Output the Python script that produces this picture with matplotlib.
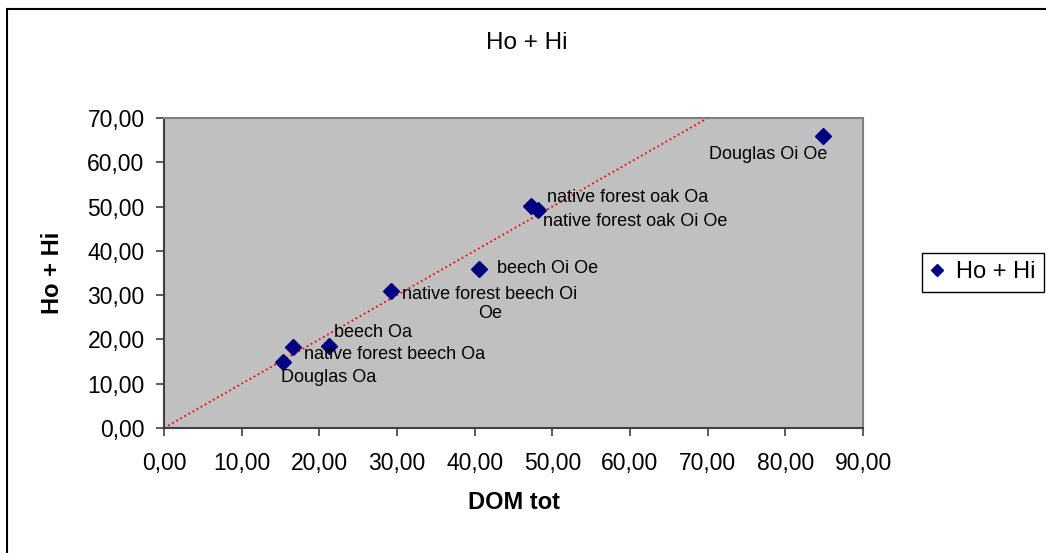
import matplotlib
matplotlib.use('Agg')
import matplotlib.pyplot as plt
from matplotlib.patches import Rectangle
from matplotlib.lines import Line2D

plt.rcParams['font.family'] = ['Liberation Sans', 'DejaVu Sans']

# data
labels = ['Douglas Oa', 'native forest beech Oa', 'beech Oa',
          'native forest beech Oi\nOe', 'beech Oi Oe', 'native forest oak Oa',
          'native forest oak Oi Oe', 'Douglas Oi Oe']
dom_tot = [15.3, 16.6, 21.2, 29.2, 40.6, 47.3, 48.2, 84.8]
ho_hi = [15.0, 18.2, 18.6, 30.9, 35.8, 50.1, 49.2, 66.0]

# reference line y = x
ref_x = [0, 70]
ref_y = [0, 70]

xticks = [0, 10, 20, 30, 40, 50, 60, 70, 80, 90]
yticks = [0, 10, 20, 30, 40, 50, 60, 70]

# label placement (pixel offsets from the marker, horizontal centre of text)
label_offsets = [(46, -16), (102, -7), (44, 13), (99, -13),
                 (68, 1), (96, 9), (97, -11), (-54, -19)]

W, H = 1046, 553
fig = plt.figure(figsize=(W / 100, H / 100), dpi=100)
ax = fig.add_axes([164 / W, 1 - 428 / H, (863 - 164) / W, (428 - 118) / H])
ax.set_facecolor('#c0c0c0')

ax.plot(ref_x, ref_y, linestyle=(0, (1, 1.6)), color='red', lw=1.3, zorder=2)
ax.plot(dom_tot, ho_hi, linestyle='none', marker='D', ms=8.5,
        color='#000080', zorder=3)

for x, y, txt, (dx, dy) in zip(dom_tot, ho_hi, labels, label_offsets):
    ax.annotate(txt, (x, y), xytext=(dx, dy), textcoords='offset pixels',
                ha='center', va='center', multialignment='center',
                fontsize=13, color='black', zorder=4)

ax.set_xlim(0, 90)
ax.set_ylim(0, 70)
ax.set_xticks(xticks)
ax.set_yticks(yticks)
ax.set_xticklabels([f'{v:.2f}'.replace('.', ',') for v in xticks])
ax.set_yticklabels([f'{v:.2f}'.replace('.', ',') for v in yticks])
ax.tick_params(axis='both', direction='out', length=6, width=1.2,
               color='#404040', labelsize=16.5)
ax.tick_params(axis='x', pad=11)
ax.tick_params(axis='y', pad=8)

for side in ['left', 'bottom']:
    ax.spines[side].set_color('#404040')
    ax.spines[side].set_linewidth(1.5)
for side in ['top', 'right']:
    ax.spines[side].set_color('#808080')
    ax.spines[side].set_linewidth(1.5)

ax.set_xlabel('DOM tot', fontsize=17, fontweight='bold', labelpad=12)
ax.set_ylabel('Ho + Hi', fontsize=17, fontweight='bold', labelpad=17)
fig.text(527 / W, 1 - 43 / H, 'Ho + Hi', ha='center', va='center', fontsize=17.5)

handle = Line2D([], [], linestyle='none', marker='D', ms=6, color='#000080')
fig.legend([handle], ['Ho + Hi'], loc='upper left',
           bbox_to_anchor=(922 / W, 1 - 253 / H), fontsize=17,
           frameon=True, fancybox=False, edgecolor='black', framealpha=1,
           handlelength=0.6, handletextpad=0.5, borderpad=0.35,
           borderaxespad=0)

# outer chart border
fig.patches.append(Rectangle((7 / W, -0.1), 1.2, 1 - 9 / H + 0.1,
                             transform=fig.transFigure, fill=False,
                             edgecolor='black', lw=1.5))

fig.savefig('out.png', dpi=100)
